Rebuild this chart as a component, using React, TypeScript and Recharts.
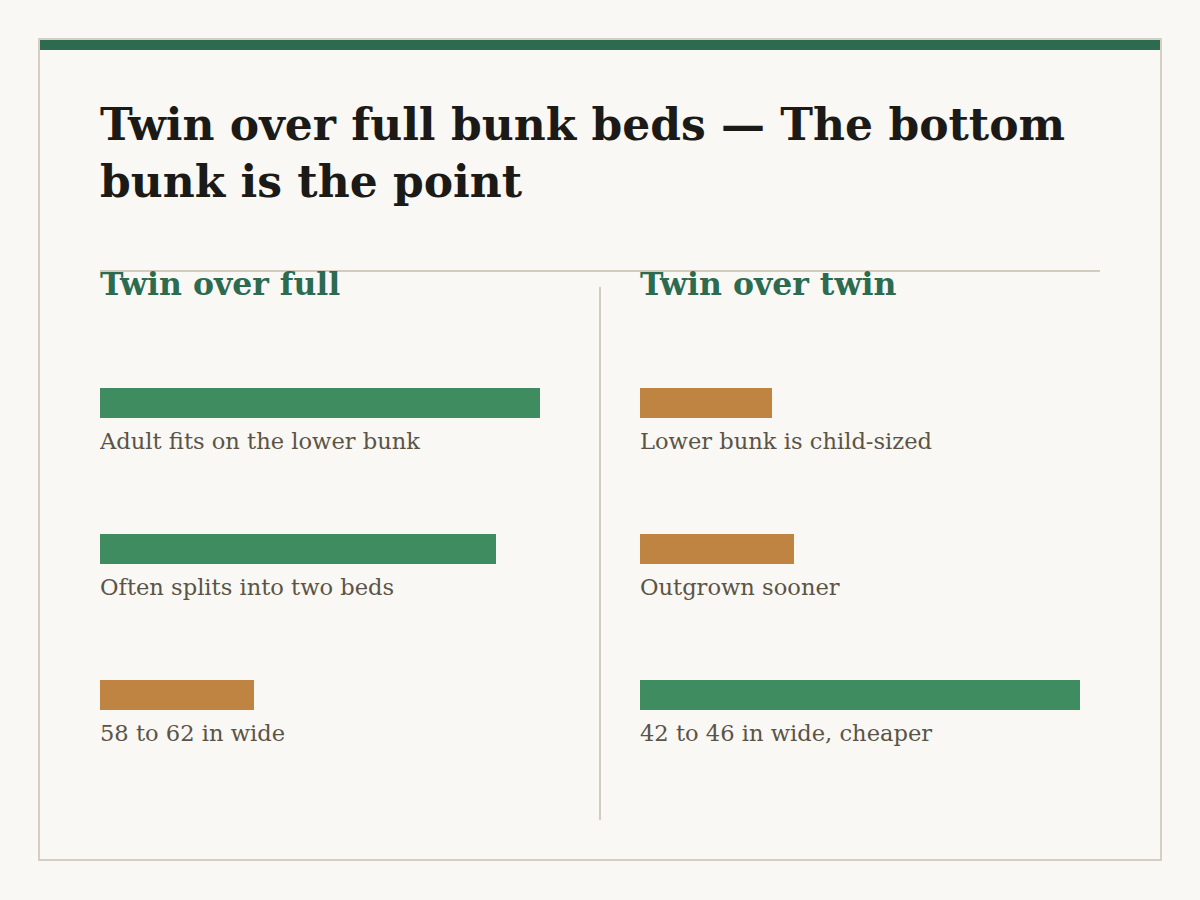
import React from "react";
import { BarChart, Bar, XAxis, YAxis, Cell, LabelList } from "recharts";

const title = "Twin over full bunk beds — The bottom bunk is the point";

const fullTitle = "Twin over full";
const fullLabels = ["Adult fits on the lower bunk", "Often splits into two beds", "58 to 62 in wide"];
const fullScores = [100, 90, 35];
const fullVerdicts = ["pro", "pro", "con"];

const twinTitle = "Twin over twin";
const twinLabels = ["Lower bunk is child-sized", "Outgrown sooner", "42 to 46 in wide, cheaper"];
const twinScores = [30, 35, 100];
const twinVerdicts = ["con", "con", "pro"];

const SERIF = "Georgia, 'DejaVu Serif', serif";
const GREEN = "#3e8c60";
const OCHRE = "#bf8441";
const DARK_GREEN = "#2d6b51";
const RULE = "#d3ccbe";

function BarLabel(props: any) {
  const { x, y, height, value } = props;
  return (
    <text x={x} y={y + height + 31} fill="#5b5446" fontSize={22.6} fontFamily={SERIF}>
      {value}
    </text>
  );
}

function Panel({ heading, labels, scores, verdicts, left }: {
  heading: string;
  labels: string[];
  scores: number[];
  verdicts: string[];
  left: number;
}) {
  const data = labels.map((label, i) => ({ label, score: scores[i], verdict: verdicts[i] }));
  return (
    <>
      <div
        style={{
          position: "absolute",
          left,
          top: 264,
          fontFamily: SERIF,
          fontWeight: 700,
          fontSize: 31.5,
          lineHeight: "40px",
          color: DARK_GREEN,
        }}
      >
        {heading}
      </div>
      <div style={{ position: "absolute", left, top: 330 }}>
        <BarChart
          layout="vertical"
          width={440}
          height={438}
          data={data}
          margin={{ top: 0, right: 0, bottom: 0, left: 0 }}
          style={{ overflow: "visible" }}
        >
          <XAxis type="number" domain={[0, 100]} hide />
          <YAxis type="category" dataKey="label" hide />
          <Bar dataKey="score" barSize={30} isAnimationActive={false}>
            {data.map((d) => (
              <Cell key={d.label} fill={d.verdict === "pro" ? GREEN : OCHRE} />
            ))}
            <LabelList dataKey="label" content={BarLabel} />
          </Bar>
        </BarChart>
      </div>
    </>
  );
}

export default function App() {
  return (
    <div
      style={{
        position: "absolute",
        left: 0,
        top: 0,
        width: 1200,
        height: 900,
        background: "#f9f8f4",
        overflow: "hidden",
      }}
    >
      <div
        style={{
          position: "absolute",
          left: 38,
          top: 38,
          width: 1124,
          height: 823,
          border: "2px solid #d6cec1",
          boxSizing: "border-box",
        }}
      />
      <div style={{ position: "absolute", left: 40, top: 40, width: 1120, height: 10, background: DARK_GREEN }} />
      <div
        style={{
          position: "absolute",
          left: 100,
          top: 96,
          width: 1000,
          fontFamily: SERIF,
          fontWeight: 700,
          fontSize: 44,
          lineHeight: "57px",
          color: "#1c1a16",
        }}
      >
        {title}
      </div>
      <div style={{ position: "absolute", left: 100, top: 270, width: 1000, height: 2, background: RULE }} />
      <div style={{ position: "absolute", left: 599, top: 287, width: 2, height: 533, background: RULE }} />
      <Panel heading={fullTitle} labels={fullLabels} scores={fullScores} verdicts={fullVerdicts} left={100} />
      <Panel heading={twinTitle} labels={twinLabels} scores={twinScores} verdicts={twinVerdicts} left={640} />
    </div>
  );
}
